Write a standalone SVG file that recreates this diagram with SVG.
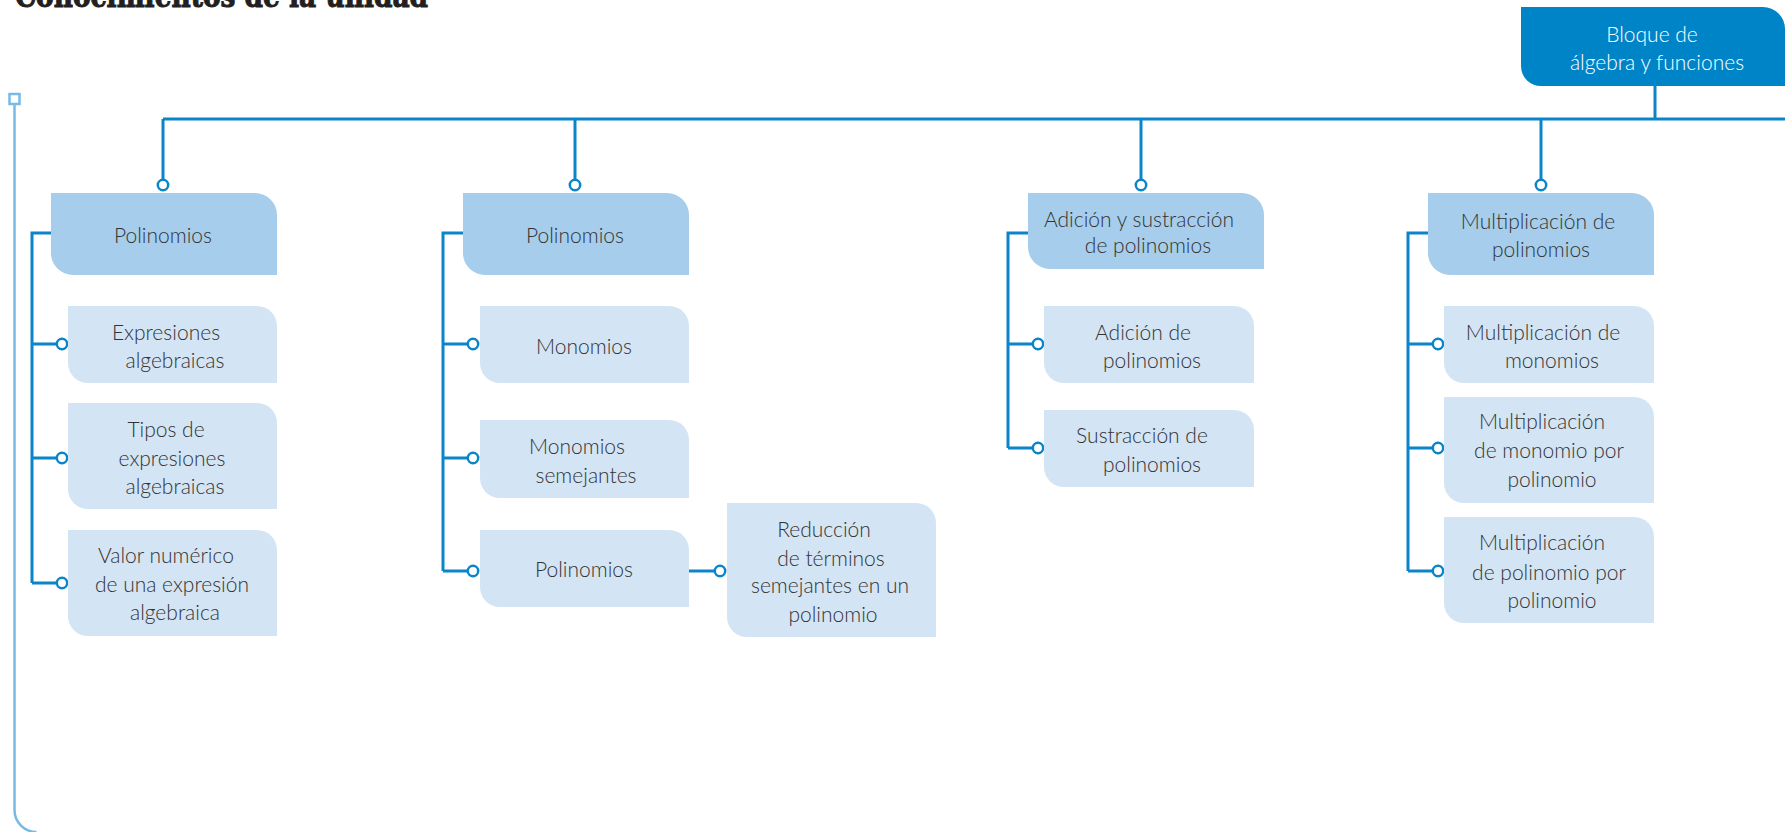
<svg xmlns="http://www.w3.org/2000/svg" width="1785" height="832" viewBox="0 0 1785 832">
  <style>
    .hdr { fill: #a6cdeb; }
    .sub { fill: #d3e4f4; }
    .top { fill: #0084c8; }
    .lbl { font-family: Lato, "Open Sans", "Liberation Sans", sans-serif; font-weight: 300; font-size: 21px; fill: #333333; text-anchor: middle; }
    .lbl-w { fill: #ffffff; }
    .title { font-family: "DejaVu Serif", "Liberation Serif", serif; font-weight: bold; font-size: 31px; fill: #231f20; stroke: #231f20; stroke-width: 1; }
    .wire { fill: none; stroke: #0a85c9; stroke-width: 3; }
    .edge { fill: none; stroke: #77bbe5; stroke-width: 2.5; }
    .dot { fill: #ffffff; stroke: #0a85c9; stroke-width: 2.5; }
  </style>

  <!-- page heading, partly cut by the top edge -->
  <text class="title" x="15" y="7" textLength="413" lengthAdjust="spacingAndGlyphs">Conocimientos de la unidad</text>

  <!-- light margin bracket -->
  <g id="margin">
    <rect x="9.5" y="94" width="10" height="10" fill="#ffffff" stroke="#77bbe5" stroke-width="2.5"/>
    <path class="edge" d="M14.5 104 V810 A22 22 0 0 0 36.5 832"/>
  </g>

  <!-- connectors -->
  <g id="connectors">
    <path class="wire" d="M1655 86 V119"/>
    <path class="wire" d="M163 119 H1785"/>
    <path class="wire" d="M163 119 V180"/>
    <path class="wire" d="M575 119 V180"/>
    <path class="wire" d="M1141 119 V180"/>
    <path class="wire" d="M1541 119 V180"/>

    <!-- column 1 -->
    <path class="wire" d="M51 233 H32 V583"/>
    <path class="wire" d="M32 344 H57 M32 458 H57 M32 583 H57"/>
    <!-- column 2 -->
    <path class="wire" d="M463 233 H443 V571"/>
    <path class="wire" d="M443 344 H468 M443 458 H468 M443 571 H468"/>
    <path class="wire" d="M688 571 H715"/>
    <!-- column 3 -->
    <path class="wire" d="M1028 233 H1008 V448"/>
    <path class="wire" d="M1008 344 H1033 M1008 448 H1033"/>
    <!-- column 4 -->
    <path class="wire" d="M1428 233 H1408 V571"/>
    <path class="wire" d="M1408 344 H1433 M1408 448 H1433 M1408 571 H1433"/>

    <circle class="dot" cx="163" cy="185" r="5.2"/>
    <circle class="dot" cx="575" cy="185" r="5.2"/>
    <circle class="dot" cx="1141" cy="185" r="5.2"/>
    <circle class="dot" cx="1541" cy="185" r="5.2"/>

    <circle class="dot" cx="62" cy="344" r="5.2"/>
    <circle class="dot" cx="62" cy="458" r="5.2"/>
    <circle class="dot" cx="62" cy="583" r="5.2"/>

    <circle class="dot" cx="473" cy="344" r="5.2"/>
    <circle class="dot" cx="473" cy="458" r="5.2"/>
    <circle class="dot" cx="473" cy="571" r="5.2"/>
    <circle class="dot" cx="720" cy="571" r="5.2"/>

    <circle class="dot" cx="1038" cy="344" r="5.2"/>
    <circle class="dot" cx="1038" cy="448" r="5.2"/>

    <circle class="dot" cx="1438" cy="344" r="5.2"/>
    <circle class="dot" cx="1438" cy="448" r="5.2"/>
    <circle class="dot" cx="1438" cy="571" r="5.2"/>
  </g>

  <!-- root -->
  <g id="bloque">
    <path class="top" d="M1521 7 H1763 A22 22 0 0 1 1785 29 V86 H1541 A20 20 0 0 1 1521 66 Z"/>
    <text class="lbl lbl-w" x="1652" y="42">Bloque de</text>
    <text class="lbl lbl-w" x="1657" y="70">álgebra y funciones</text>
  </g>

  <!-- column 1 -->
  <g id="polinomios-1">
    <path class="hdr" d="M51 193 H255 A22 22 0 0 1 277 215 V275 H73 A22 22 0 0 1 51 253 Z"/>
    <text class="lbl" x="163" y="243">Polinomios</text>
  </g>
  <g id="expresiones-algebraicas">
    <path class="sub" d="M68 306 H257 A20 20 0 0 1 277 326 V383 H88 A20 20 0 0 1 68 363 Z"/>
    <text class="lbl" x="166" y="340">Expresiones</text>
    <text class="lbl" x="175" y="368">algebraicas</text>
  </g>
  <g id="tipos-expresiones">
    <path class="sub" d="M68 403 H257 A20 20 0 0 1 277 423 V509 H88 A20 20 0 0 1 68 489 Z"/>
    <text class="lbl" x="166" y="437">Tipos de</text>
    <text class="lbl" x="172" y="466">expresiones</text>
    <text class="lbl" x="175" y="494">algebraicas</text>
  </g>
  <g id="valor-numerico">
    <path class="sub" d="M68 530 H257 A20 20 0 0 1 277 550 V636 H88 A20 20 0 0 1 68 616 Z"/>
    <text class="lbl" x="166" y="563">Valor numérico</text>
    <text class="lbl" x="172" y="592">de una expresión</text>
    <text class="lbl" x="175" y="620">algebraica</text>
  </g>

  <!-- column 2 -->
  <g id="polinomios-2">
    <path class="hdr" d="M463 193 H667 A22 22 0 0 1 689 215 V275 H485 A22 22 0 0 1 463 253 Z"/>
    <text class="lbl" x="575" y="243">Polinomios</text>
  </g>
  <g id="monomios">
    <path class="sub" d="M480 306 H669 A20 20 0 0 1 689 326 V383 H500 A20 20 0 0 1 480 363 Z"/>
    <text class="lbl" x="584" y="354">Monomios</text>
  </g>
  <g id="monomios-semejantes">
    <path class="sub" d="M480 420 H669 A20 20 0 0 1 689 440 V498 H500 A20 20 0 0 1 480 478 Z"/>
    <text class="lbl" x="577" y="454">Monomios</text>
    <text class="lbl" x="586" y="483">semejantes</text>
  </g>
  <g id="polinomios-3">
    <path class="sub" d="M480 530 H669 A20 20 0 0 1 689 550 V607 H500 A20 20 0 0 1 480 587 Z"/>
    <text class="lbl" x="584" y="577">Polinomios</text>
  </g>
  <g id="reduccion-terminos">
    <path class="sub" d="M727 503 H916 A20 20 0 0 1 936 523 V637 H747 A20 20 0 0 1 727 617 Z"/>
    <text class="lbl" x="824" y="537">Reducción</text>
    <text class="lbl" x="831" y="566">de términos</text>
    <text class="lbl" x="830" y="593">semejantes en un</text>
    <text class="lbl" x="833" y="622">polinomio</text>
  </g>

  <!-- column 3 -->
  <g id="adicion-sustraccion">
    <path class="hdr" d="M1028 193 H1242 A22 22 0 0 1 1264 215 V269 H1050 A22 22 0 0 1 1028 247 Z"/>
    <text class="lbl" x="1139" y="227">Adición y sustracción</text>
    <text class="lbl" x="1148" y="253">de polinomios</text>
  </g>
  <g id="adicion">
    <path class="sub" d="M1044 306 H1234 A20 20 0 0 1 1254 326 V383 H1064 A20 20 0 0 1 1044 363 Z"/>
    <text class="lbl" x="1143" y="340">Adición de</text>
    <text class="lbl" x="1152" y="368">polinomios</text>
  </g>
  <g id="sustraccion">
    <path class="sub" d="M1044 410 H1234 A20 20 0 0 1 1254 430 V487 H1064 A20 20 0 0 1 1044 467 Z"/>
    <text class="lbl" x="1142" y="443">Sustracción de</text>
    <text class="lbl" x="1152" y="472">polinomios</text>
  </g>

  <!-- column 4 -->
  <g id="multiplicacion">
    <path class="hdr" d="M1428 193 H1632 A22 22 0 0 1 1654 215 V275 H1450 A22 22 0 0 1 1428 253 Z"/>
    <text class="lbl" x="1538" y="229">Multiplicación de</text>
    <text class="lbl" x="1541" y="257">polinomios</text>
  </g>
  <g id="mult-monomios">
    <path class="sub" d="M1444 306 H1634 A20 20 0 0 1 1654 326 V383 H1464 A20 20 0 0 1 1444 363 Z"/>
    <text class="lbl" x="1543" y="340">Multiplicación de</text>
    <text class="lbl" x="1552" y="368">monomios</text>
  </g>
  <g id="mult-monomio-polinomio">
    <path class="sub" d="M1444 397 H1634 A20 20 0 0 1 1654 417 V503 H1464 A20 20 0 0 1 1444 483 Z"/>
    <text class="lbl" x="1542" y="429">Multiplicación</text>
    <text class="lbl" x="1549" y="458">de monomio por</text>
    <text class="lbl" x="1552" y="487">polinomio</text>
  </g>
  <g id="mult-polinomio-polinomio">
    <path class="sub" d="M1444 517 H1634 A20 20 0 0 1 1654 537 V623 H1464 A20 20 0 0 1 1444 603 Z"/>
    <text class="lbl" x="1542" y="550">Multiplicación</text>
    <text class="lbl" x="1549" y="580">de polinomio por</text>
    <text class="lbl" x="1552" y="608">polinomio</text>
  </g>
</svg>
